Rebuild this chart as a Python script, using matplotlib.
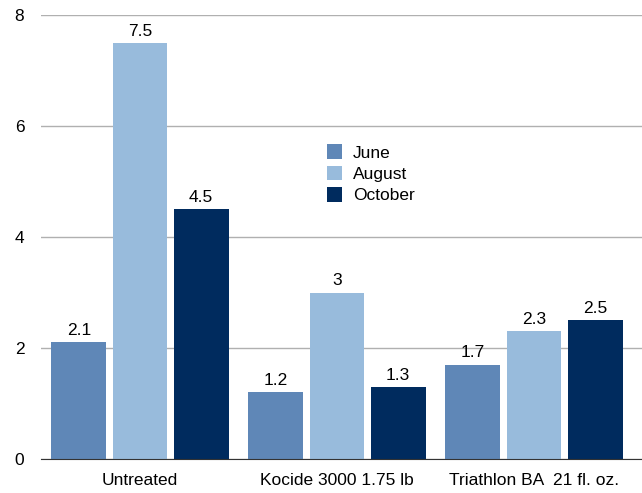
import numpy as np
import matplotlib.pyplot as plt

plt.rcParams['font.family'] = ['Liberation Sans', 'DejaVu Sans']

treatments = ['Untreated', 'Kocide 3000 1.75 lb', 'Triathlon BA  21 fl. oz.']
months = ['June', 'August', 'October']
june = [2.1, 1.2, 1.7]
august = [7.5, 3.0, 2.3]
october = [4.5, 1.3, 2.5]
colors = ['#5f87b7', '#98bbdc', '#002b5e']

fig = plt.figure(figsize=(6.42, 4.93), dpi=100)
ax = fig.add_axes([41 / 642, 34 / 493, 601 / 642, 444 / 493])

x = np.arange(len(treatments))
width = 0.279
step = 0.31
for i, (vals, m) in enumerate(zip([june, august, october], months)):
    bars = ax.bar(x + (i - 1) * step, vals, width, color=colors[i], label=m, zorder=3)
    for b, v in zip(bars, vals):
        ax.annotate(f'{v:g}', (b.get_x() + b.get_width() / 2, v), xytext=(0, 3),
                    textcoords='offset points', ha='center', va='bottom', fontsize=12.5)

ax.set_xlim(-0.5025, -0.5025 + 601 / 197)
ax.set_ylim(0, 8)
ax.set_yticks([0, 2, 4, 6, 8])
ax.set_xticks(x)
ax.set_xticklabels(treatments)
ax.tick_params(axis='both', length=0, labelsize=12.5)
ax.tick_params(axis='y', pad=12)
ax.tick_params(axis='x', pad=10)
ax.yaxis.grid(True, color='#b0b0b0', linewidth=1, zorder=0)
for s in ['left', 'right', 'top']:
    ax.spines[s].set_visible(False)
ax.spines['bottom'].set_color('#333333')
ax.spines['bottom'].set_zorder(4)

fig.legend(loc='upper left', bbox_to_anchor=(324 / 642, 1 - 141 / 493), frameon=False,
           fontsize=12.5, handlelength=0.85, handleheight=0.9, handletextpad=0.6,
           labelspacing=0.3, borderpad=0.2, borderaxespad=0)

fig.savefig('out.png', dpi=100)
